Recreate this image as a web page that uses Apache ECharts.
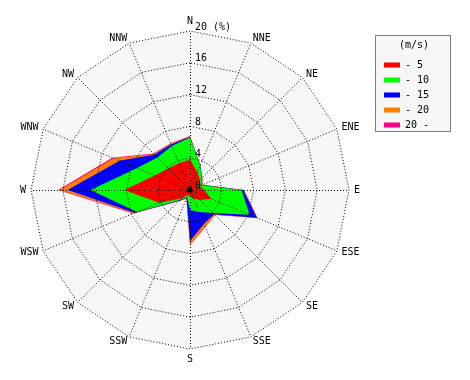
<!DOCTYPE html>
<html><head><meta charset="utf-8">
<script src="https://cdn.jsdelivr.net/npm/echarts@6/dist/echarts.min.js"></script>
<style>html,body{margin:0;padding:0;background:#fff}#c{width:470px;height:380px}</style>
</head><body><div id="c"></div>
<script>
// Wind directions, clockwise from north
const directions = ['N','NNE','NE','ENE','E','ESE','SE','SSE','S','SSW','SW','WSW','W','WNW','NW','NNW'];
// Wind speed classes (m/s)
const speedClasses = ['- 5','- 10','- 15','- 20','20 -'];
const classColors = ['#ff0000','#00ff00','#0000ff','#ff8000','#ff0080'];
// Frequency (%) of each speed class per direction (same order as directions)
const freqTo5   = [3.85, 2.4, 1.8, 1.3, 1.8, 2.9, 1.8, 1.2, 0.8, 0.6, 1.5, 4.2, 8.3, 4.8, 3.85, 3.65];
const freqTo10  = [2.75, 0.9, 0.3, 0.3, 4.7, 5.2, 2.3, 1.8, 1.7, 0.4, 0.3, 3.0, 4.2, 2.4, 1.95, 2.35];
const freqTo15  = [0.1, 0.05, 0.05, 0.05, 0.2, 1.0, 0.2, 1.6, 3.9, 0.1, 0.1, 0.3, 2.9, 2.4, 0.5, 0.2];
const freqTo20  = [0.05, 0.05, 0.05, 0.05, 0.05, 0.05, 0.1, 0.4, 0.5, 0.05, 0.05, 0.1, 1.0, 0.8, 0.1, 0.1];
const freqOver20= [0.05, 0, 0, 0, 0.05, 0.05, 0.05, 0.05, 0.05, 0.05, 0.05, 0.1, 0.2, 0.2, 0.1, 0.05];
// Radial scale (%)
const radialMax = 20;
const radialInterval = 4;

const FONT = 'DejaVu Sans Mono';
const classes = [freqTo5, freqTo10, freqTo15, freqTo20, freqOver20];

// ECharts radar places indicators counter-clockwise, so reorder to get a clockwise compass
const order = [0].concat(directions.map((d, i) => i).slice(1).reverse());
const indicator = order.map(i => ({ name: directions[i], min: 0, max: radialMax }));

// stacked (cumulative) rings
const cumulative = [];
classes.forEach((arr, k) => {
  cumulative.push(arr.map((v, i) => v + (k > 0 ? cumulative[k - 1][i] : 0)));
});
const radarData = [];
for (let k = classes.length - 1; k >= 0; k--) {
  radarData.push({
    name: speedClasses[k],
    value: order.map(i => +cumulative[k][i].toFixed(3)),
    itemStyle: { color: classColors[k] },
    areaStyle: { color: classColors[k], opacity: 1 },
    lineStyle: { width: 0, color: classColors[k] }
  });
}

const dotted = { color: '#000', type: [1, 2], width: 1, cap: 'butt' };
const radarBase = {
  center: [190, 190],
  radius: 159,
  shape: 'polygon',
  splitNumber: radialMax / radialInterval,
  startAngle: 90,
  indicator: indicator,
  nameGap: 5,
  axisTick: { show: false },
  axisLabel: { show: false }
};

const chart = echarts.init(document.getElementById('c'), null, { renderer: 'canvas' });
chart.setOption({
  animation: false,
  backgroundColor: '#ffffff',
  radar: [
    Object.assign({}, radarBase, {
      z: 0,
      axisName: { color: '#000', fontFamily: FONT, fontSize: 10 },
      splitArea: { show: true, areaStyle: { color: ['#f7f7f7'] } },
      splitLine: { show: false },
      axisLine: { show: false }
    }),
    Object.assign({}, radarBase, {
      z: 8,
      axisName: { show: false },
      splitArea: { show: false },
      splitLine: { show: true, lineStyle: dotted },
      axisLine: { show: true, lineStyle: dotted }
    })
  ],
  polar: { center: [190, 190], radius: 159 },
  angleAxis: { type: 'value', min: 0, max: 360, startAngle: 90, show: false },
  radiusAxis: {
    type: 'value', min: 0, max: radialMax, interval: radialInterval,
    axisLine: { show: false }, axisTick: { show: false }, splitLine: { show: false },
    axisLabel: {
      show: true, color: '#000', fontFamily: FONT, fontSize: 10, margin: -5, align: 'left',
      verticalAlign: 'bottom', lineHeight: 8,
      formatter: v => v === radialMax ? v + ' (%)' : String(v)
    },
    z: 10
  },
  legend: {
    orient: 'vertical', left: 379, top: 54,
    itemWidth: 16, itemHeight: 5, itemGap: 3, icon: 'rect',
    textStyle: { color: '#000', fontFamily: FONT, fontSize: 10, lineHeight: 12 },
    data: speedClasses, z: 5, selectedMode: false
  },
  graphic: [
    { type: 'rect', z: 1, shape: { x: 375.5, y: 35.5, width: 75, height: 96 },
      style: { fill: '#f7f7f7', stroke: '#000', lineWidth: 1, lineDash: [1, 1] } },
    { type: 'text', z: 2, x: 414, y: 45,
      style: { text: '(m/s)', fill: '#000', font: '10px ' + FONT, align: 'center', verticalAlign: 'middle' } },
    { type: 'circle', z: 20, shape: { cx: 190, cy: 190, r: 2.5 }, style: { fill: '#000' } }
  ],
  series: [{
    type: 'radar',
    radarIndex: 0,
    symbol: 'none',
    silent: true,
    z: 3,
    data: radarData
  }]
});
</script></body></html>
